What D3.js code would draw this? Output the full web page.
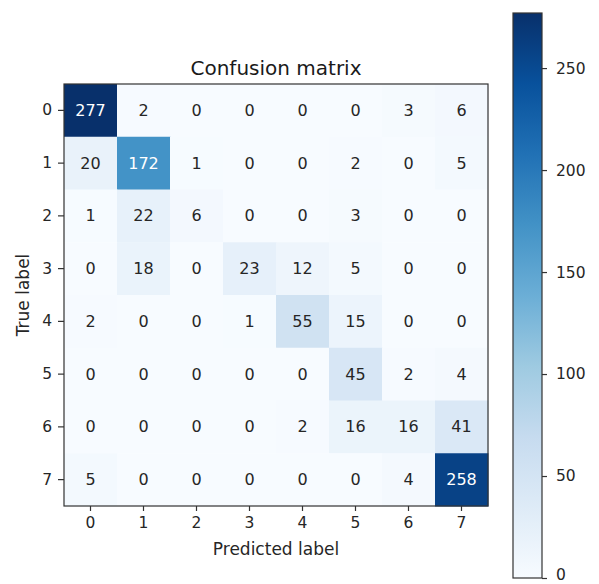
<!DOCTYPE html>
<html>
<head>
<meta charset="utf-8">
<script src="https://cdn.jsdelivr.net/npm/d3@7/dist/d3.min.js"></script>
<style>
  html, body { margin: 0; padding: 0; background: #fff; }
  svg text { font-family: "DejaVu Sans", sans-serif; }
</style>
</head>
<body>
<svg id="chart" width="599" height="584"></svg>
<script>
// Class labels
const classes = ["0", "1", "2", "3", "4", "5", "6", "7"];

// Confusion matrix counts, one row per true label
const row0 = [277, 2, 0, 0, 0, 0, 3, 6];
const row1 = [20, 172, 1, 0, 0, 2, 0, 5];
const row2 = [1, 22, 6, 0, 0, 3, 0, 0];
const row3 = [0, 18, 0, 23, 12, 5, 0, 0];
const row4 = [2, 0, 0, 1, 55, 15, 0, 0];
const row5 = [0, 0, 0, 0, 0, 45, 2, 4];
const row6 = [0, 0, 0, 0, 2, 16, 16, 41];
const row7 = [5, 0, 0, 0, 0, 0, 4, 258];
const matrix = [row0, row1, row2, row3, row4, row5, row6, row7];

// Colorbar ticks
const colorbarTicks = [0, 50, 100, 150, 200, 250];

const svg = d3.select("#chart");
const ink = "#262626";

// Blues colormap stops
const bluesStops = ["#f7fbff", "#deebf7", "#c6dbef", "#9ecae1", "#6baed6",
                    "#4292c6", "#2171b5", "#08519c", "#08306b"];
const vmax = d3.max(matrix.flat());
const color = d3.scaleLinear()
  .domain(bluesStops.map((_, i) => i / (bluesStops.length - 1) * vmax))
  .range(bluesStops)
  .interpolate(d3.interpolateRgb)
  .clamp(true);

// Heatmap geometry
const plotL = 64, plotT = 84, plotR = 488, plotB = 506;
const x = d3.scaleBand().domain(classes).range([plotL, plotR]);
const y = d3.scaleBand().domain(classes).range([plotT, plotB]);

const cells = [];
matrix.forEach((row, i) => row.forEach((v, j) => cells.push({ r: classes[i], c: classes[j], v })));

svg.append("g").selectAll("rect").data(cells).join("rect")
  .attr("x", d => x(d.c))
  .attr("y", d => y(d.r))
  .attr("width", x.bandwidth() + 0.5)
  .attr("height", y.bandwidth() + 0.5)
  .attr("fill", d => color(d.v));

const thresh = vmax / 2;
svg.append("g").selectAll("text").data(cells).join("text")
  .attr("x", d => x(d.c) + x.bandwidth() / 2)
  .attr("y", d => y(d.r) + y.bandwidth() / 2)
  .attr("text-anchor", "middle")
  .attr("dominant-baseline", "central")
  .attr("font-size", 16)
  .attr("fill", d => d.v > thresh ? "#ffffff" : ink)
  .text(d => d.v);

// Frame
svg.append("rect")
  .attr("x", plotL).attr("y", plotT)
  .attr("width", plotR - plotL).attr("height", plotB - plotT)
  .attr("fill", "none").attr("stroke", "#333").attr("stroke-width", 1.2);

// Axes
const xAxis = svg.append("g")
  .attr("transform", `translate(0,${plotB})`)
  .call(d3.axisBottom(x).tickSize(5).tickPadding(6));
const yAxis = svg.append("g")
  .attr("transform", `translate(${plotL},0)`)
  .call(d3.axisLeft(y).tickSize(6).tickPadding(6));
[xAxis, yAxis].forEach(g => {
  g.select(".domain").remove();
  g.selectAll("line").attr("stroke", "#333").attr("stroke-width", 1.2);
  g.selectAll("text").attr("font-size", 15.5).attr("fill", ink)
    .attr("font-family", "DejaVu Sans, sans-serif");
});

// Title and axis labels
svg.append("text")
  .attr("x", (plotL + plotR) / 2).attr("y", 75)
  .attr("text-anchor", "middle").attr("font-size", 20).attr("fill", "#1a1a1a")
  .text("Confusion matrix");
svg.append("text")
  .attr("x", (plotL + plotR) / 2).attr("y", 555)
  .attr("text-anchor", "middle").attr("font-size", 17).attr("fill", ink)
  .text("Predicted label");
svg.append("text")
  .attr("transform", `translate(29,${(plotT + plotB) / 2}) rotate(-90)`)
  .attr("text-anchor", "middle").attr("font-size", 17).attr("fill", ink)
  .text("True label");

// Colorbar
const cbX = 513, cbW = 29, cbTop = 13, cbBottom = 578;
const cbScale = d3.scaleLinear().domain([0, vmax]).range([cbBottom, cbTop]);
const defs = svg.append("defs");
const grad = defs.append("linearGradient").attr("id", "cbGrad")
  .attr("x1", 0).attr("y1", 1).attr("x2", 0).attr("y2", 0);
bluesStops.forEach((c, i) => grad.append("stop")
  .attr("offset", i / (bluesStops.length - 1)).attr("stop-color", c));
svg.append("rect")
  .attr("x", cbX).attr("y", cbTop).attr("width", cbW).attr("height", cbBottom - cbTop)
  .attr("fill", "url(#cbGrad)").attr("stroke", "#333").attr("stroke-width", 1.2);
const cbAxis = svg.append("g")
  .attr("transform", `translate(${cbX + cbW},0)`)
  .call(d3.axisRight(cbScale).tickValues(colorbarTicks).tickSize(5).tickPadding(9));
cbAxis.select(".domain").remove();
cbAxis.selectAll("line").attr("stroke", "#333").attr("stroke-width", 1.2);
cbAxis.selectAll("text").attr("font-size", 15.5).attr("fill", ink)
  .attr("font-family", "DejaVu Sans, sans-serif");
// Keep the lowest colorbar label fully inside the canvas
cbAxis.selectAll(".tick").filter(d => d === 0).select("text").attr("dy", "0.1em");
</script>
</body>
</html>
